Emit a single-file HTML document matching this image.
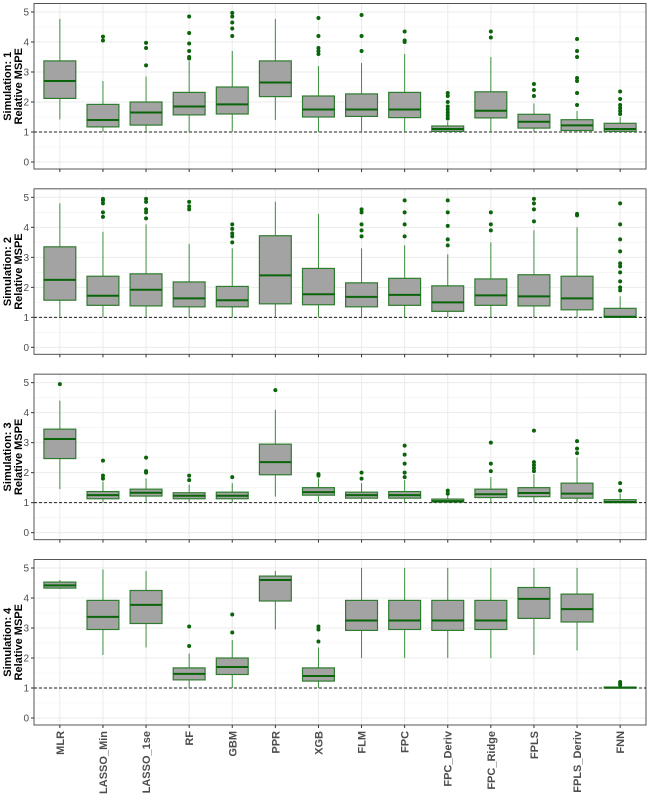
<!DOCTYPE html>
<html><head><meta charset="utf-8"><style>
html,body{margin:0;padding:0;background:#fff;}
svg{display:block;font-family:"Liberation Sans",sans-serif;}
</style></head><body>
<svg id="chart" width="650" height="800" viewBox="0 0 650 800"></svg>
<script>
const categories = ["MLR","LASSO_Min","LASSO_1se","RF","GBM","PPR","XGB","FLM","FPC","FPC_Deriv","FPC_Ridge","FPLS","FPLS_Deriv","FNN"];
const yTicks = [0,1,2,3,4,5];
const panelTitles = ["Simulation: 1","Simulation: 2","Simulation: 3","Simulation: 4"];
// each stat: [whiskerLow, q1, median, q3, whiskerHigh]
const sim1Stats = [[1.42,2.12,2.7,3.37,4.77],[1.0,1.17,1.4,1.92,2.7],[1.0,1.23,1.65,2.0,2.85],[1.0,1.57,1.85,2.32,3.35],[1.0,1.6,1.92,2.5,3.7],[1.4,2.18,2.65,3.37,4.77],[1.0,1.5,1.75,2.2,3.2],[1.0,1.52,1.75,2.27,3.3],[1.0,1.48,1.75,2.32,3.6],[1.0,1.02,1.1,1.2,1.35],[1.0,1.47,1.71,2.34,3.5],[1.0,1.13,1.34,1.59,1.95],[1.0,1.05,1.22,1.41,1.7],[1.0,1.02,1.1,1.29,1.5]];
const sim1Out = [[],[4.05,4.18],[3.22,3.8,3.97],[3.45,3.5,3.7,3.95,4.3,4.85],[4.2,4.45,4.65,4.85,4.97],[],[3.6,3.7,3.8,4.2,4.8],[3.7,4.2,4.9],[4.0,4.05,4.35],[1.45,1.55,1.65,1.75,1.85,2.0,2.2,2.3],[4.15,4.35],[2.2,2.4,2.6],[1.9,2.3,2.7,2.8,3.5,3.7,4.1],[1.6,1.7,1.8,1.9,2.1,2.35]];
const sim2Stats = [[1.0,1.57,2.25,3.35,4.8],[1.0,1.4,1.72,2.37,3.85],[1.0,1.38,1.92,2.45,4.1],[1.0,1.35,1.63,2.18,3.45],[1.0,1.35,1.57,2.03,3.3],[1.0,1.45,2.4,3.72,4.85],[1.0,1.42,1.77,2.63,4.45],[1.0,1.35,1.68,2.15,3.3],[1.0,1.4,1.75,2.3,3.4],[1.0,1.2,1.5,2.05,3.1],[1.0,1.4,1.73,2.28,3.5],[1.0,1.38,1.7,2.42,3.9],[1.0,1.25,1.63,2.37,4.0],[1.0,1.0,1.02,1.3,1.7]];
const sim2Out = [[],[4.35,4.5,4.8,4.9,4.95],[4.3,4.5,4.6,4.85,4.95],[4.6,4.7,4.85],[3.5,3.7,3.8,3.95,4.1],[],[],[3.7,3.9,4.1,4.5,4.6],[3.7,4.1,4.5,4.9],[3.4,3.6,4.05,4.5,4.9],[3.9,4.1,4.5],[4.2,4.6,4.8,4.95],[4.4,4.45],[1.9,2.0,2.2,2.5,2.7,2.8,3.2,3.6,4.1,4.8]];
const sim3Stats = [[1.45,2.47,3.12,3.45,4.4],[1.0,1.13,1.25,1.37,1.7],[1.0,1.22,1.33,1.45,1.8],[1.0,1.13,1.23,1.33,1.6],[1.0,1.13,1.23,1.35,1.65],[1.2,1.93,2.35,2.95,4.1],[1.03,1.25,1.35,1.5,1.8],[1.0,1.15,1.25,1.35,1.65],[1.0,1.15,1.25,1.37,1.75],[1.0,1.02,1.05,1.12,1.25],[1.0,1.17,1.28,1.45,1.85],[1.0,1.2,1.32,1.5,1.95],[1.0,1.15,1.3,1.65,2.5],[1.0,1.0,1.02,1.1,1.3]];
const sim3Out = [[4.95],[1.8,1.9,2.4],[2.0,2.05,2.5],[1.75,1.9],[1.85],[4.75],[1.9,1.95],[1.8,2.0],[1.85,2.0,2.3,2.6,2.9],[1.3,1.4],[2.05,2.3,3.0],[2.05,2.15,2.25,2.35,3.4],[2.65,2.8,3.05],[1.4,1.65]];
const sim4Stats = [[4.3,4.33,4.42,4.53,4.6],[2.1,2.95,3.37,3.92,4.95],[2.35,3.15,3.77,4.25,4.9],[1.0,1.27,1.47,1.67,2.15],[1.0,1.45,1.7,2.0,2.6],[2.95,3.9,4.6,4.73,4.9],[1.0,1.23,1.4,1.67,2.35],[2.0,2.92,3.25,3.92,5.0],[2.0,2.95,3.25,3.92,5.0],[2.0,2.92,3.25,3.92,5.0],[2.0,2.95,3.25,3.92,5.0],[2.1,3.32,3.97,4.35,5.0],[2.25,3.2,3.63,4.13,5.0],[1.0,1.0,1.01,1.03,1.05]];
const sim4Out = [[],[],[],[2.4,3.05],[2.85,3.45],[],[2.55,2.95,3.05],[],[],[],[],[],[],[1.1,1.15,1.2]];
const allStats=[sim1Stats,sim2Stats,sim3Stats,sim4Stats];
const allOut=[sim1Out,sim2Out,sim3Out,sim4Out];

const NS="http://www.w3.org/2000/svg";
const svg=document.getElementById('chart');
function mk(tag,attrs,parent){const e=document.createElementNS(NS,tag);for(const k in attrs)e.setAttribute(k,attrs[k]);(parent||svg).appendChild(e);return e;}
const L=34,R=646,step=(R-L)/(categories.length-1+1.2);
function xPos(i){return L+step*(0.6+i);}
const unit=30;
function panelY0(p){return 162+185.33*p;}
function yPos(p,v){return panelY0(p)-v*unit;}
const bw=step*0.74;

for(let p=0;p<4;p++){
  const g=mk('g',{});
  
  
  const top=panelY0(p)-158.5,bot=panelY0(p)+7;
  for(let v=0.5;v<5.5;v+=1){mk('line',{x1:L,x2:R,y1:yPos(p,v),y2:yPos(p,v),stroke:'#f2f2f2','stroke-width':0.6},g);}
  for(const v of yTicks){const l=mk('line',{x1:L,x2:R,y1:yPos(p,v),y2:yPos(p,v),stroke:'#ebebeb','stroke-width':1},g);
    }
  categories.forEach((c,i)=>{mk('line',{x1:xPos(i),x2:xPos(i),y1:top,y2:bot,stroke:'#ebebeb','stroke-width':1},g);});
  const b=mk('rect',{x:L,y:top,width:R-L,height:bot-top,fill:'none',stroke:'#555','stroke-width':1},g);
  
  for(const v of yTicks){
    mk('line',{x1:L-3,x2:L,y1:yPos(p,v),y2:yPos(p,v),stroke:'#333','stroke-width':1},g);
    const t=mk('text',{x:L-5,y:yPos(p,v)+3.5,'text-anchor':'end','font-size':10,fill:'#4d4d4d'},g);
    t.textContent=v;
  }
  categories.forEach((c,i)=>{mk('line',{x1:xPos(i),x2:xPos(i),y1:bot,y2:bot+3,stroke:'#333','stroke-width':1},g);});
  const cy=(top+bot)/2;
  const yt=mk('text',{transform:`translate(11,${cy}) rotate(-90)`,'text-anchor':'middle','font-size':11,'font-weight':'bold',fill:'#000'},g);
  
  const s1=mk('tspan',{x:0,dy:0},yt);s1.textContent=panelTitles[p];
  const s2=mk('tspan',{x:0,dy:11},yt);s2.textContent='Relative MSPE';
  const rl=mk('line',{x1:L,x2:R,y1:yPos(p,1),y2:yPos(p,1),stroke:'#222','stroke-width':1,'stroke-dasharray':'3,2'},g);
  
  const st=allStats[p],out=allOut[p];
  categories.forEach((c,i)=>{
    const [lo,q1,md,q3,hi]=st[i];const x=xPos(i);
    const bg=mk('g',{},g);
    
    mk('line',{x1:x,x2:x,y1:yPos(p,hi),y2:yPos(p,q3),stroke:'#3c8f3c','stroke-width':1},bg);
    mk('line',{x1:x,x2:x,y1:yPos(p,q1),y2:yPos(p,lo),stroke:'#3c8f3c','stroke-width':1},bg);
    mk('rect',{x:x-bw/2,y:yPos(p,q3),width:bw,height:Math.max(0.5,yPos(p,q1)-yPos(p,q3)),fill:'#a3a3a3',stroke:'#2e7d2e','stroke-width':1.2},bg);
    mk('line',{x1:x-bw/2,x2:x+bw/2,y1:yPos(p,md),y2:yPos(p,md),stroke:'#0a640a','stroke-width':2},bg);
    for(const o of out[i]){const c2=mk('circle',{cx:x,cy:yPos(p,o),r:2,fill:'#0a640a'},bg);
      }
  });
}
const by=panelY0(3)+7;
categories.forEach((c,i)=>{
  const t=mk('text',{transform:`translate(${xPos(i)+4},${by+6}) rotate(-90)`,'text-anchor':'end','font-size':11,'font-weight':'bold',fill:'#4d4d4d'});
  t.textContent=c;
});
</script>
</body></html>
